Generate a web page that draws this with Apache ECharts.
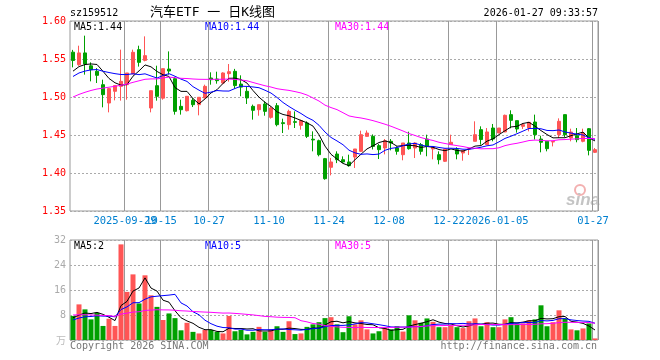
<!DOCTYPE html>
<html><head><meta charset="utf-8">
<script src="https://cdn.jsdelivr.net/npm/echarts@6/dist/echarts.min.js"></script>
<style>html,body{margin:0;padding:0;background:#fff}#c{width:660px;height:360px}</style>
</head><body><div id="c"></div>
<script>
const dates = [
'2025-09-16','2025-09-17','2025-09-18','2025-09-19','2025-09-22','2025-09-23','2025-09-24','2025-09-25','2025-09-26','2025-09-29',
'2025-09-30','2025-10-09','2025-10-10','2025-10-13','2025-10-14','2025-10-15','2025-10-16','2025-10-17','2025-10-20','2025-10-21',
'2025-10-22','2025-10-23','2025-10-24','2025-10-27','2025-10-28','2025-10-29','2025-10-30','2025-10-31','2025-11-03','2025-11-04',
'2025-11-05','2025-11-06','2025-11-07','2025-11-10','2025-11-11','2025-11-12','2025-11-13','2025-11-14','2025-11-17','2025-11-18',
'2025-11-19','2025-11-20','2025-11-21','2025-11-24','2025-11-25','2025-11-26','2025-11-27','2025-11-28','2025-12-01','2025-12-02',
'2025-12-03','2025-12-04','2025-12-05','2025-12-08','2025-12-09','2025-12-10','2025-12-11','2025-12-12','2025-12-15','2025-12-16',
'2025-12-17','2025-12-18','2025-12-19','2025-12-22','2025-12-23','2025-12-24','2025-12-25','2025-12-26','2025-12-29','2025-12-30',
'2025-12-31','2026-01-05','2026-01-06','2026-01-07','2026-01-08','2026-01-09','2026-01-12','2026-01-13','2026-01-14','2026-01-15',
'2026-01-16','2026-01-19','2026-01-20','2026-01-21','2026-01-22','2026-01-23','2026-01-26','2026-01-27'];
const opens = [1.559,1.5425,1.558,1.541,1.5338,1.5162,1.4921,1.5075,1.514,1.5162,
1.5303,1.5623,1.5482,1.4855,1.5149,1.4985,1.5368,1.5241,1.4877,1.482,
1.4956,1.4899,1.4987,1.525,1.5237,1.5184,1.5307,1.5338,1.517,1.5075,
1.4877,1.4833,1.4908,1.4732,1.4886,1.4662,1.4636,1.4675,1.4627,1.4658,
1.4445,1.4425,1.4189,1.4075,1.425,1.4175,1.4145,1.421,1.4285,1.4482,
1.4482,1.436,1.4329,1.4417,1.4329,1.4241,1.4395,1.4329,1.4373,1.4447,
1.4316,1.4241,1.4154,1.4373,1.4307,1.4263,1.4316,1.4417,1.457,1.4373,
1.4592,1.4526,1.454,1.4768,1.4689,1.4614,1.4592,1.4671,1.4447,1.4417,
1.4408,1.4504,1.4768,1.446,1.4491,1.4417,1.4583,1.4272];
const closes = [1.548,1.558,1.5434,1.536,1.5285,1.5031,1.511,1.515,1.5206,1.5316,
1.5588,1.5456,1.5544,1.5083,1.5009,1.5373,1.5342,1.4811,1.4833,1.5009,
1.4899,1.4996,1.514,1.5228,1.5215,1.5316,1.5333,1.515,1.513,1.4987,
1.4825,1.4899,1.4811,1.4855,1.4636,1.465,1.4811,1.4667,1.4689,1.4482,
1.4435,1.4241,1.3925,1.4145,1.4175,1.4145,1.4096,1.4316,1.4504,1.4526,
1.435,1.4307,1.4425,1.4395,1.4285,1.4395,1.432,1.4395,1.4285,1.435,
1.4338,1.4175,1.4316,1.4404,1.425,1.4294,1.4318,1.4504,1.444,1.454,
1.4447,1.4592,1.4759,1.4693,1.4579,1.4636,1.4667,1.4504,1.4404,1.432,
1.4414,1.468,1.4504,1.4539,1.4439,1.4526,1.4298,1.4307];
const lows = [1.539,1.541,1.5294,1.5206,1.5184,1.4864,1.4798,1.4956,1.4952,1.4965,
1.5303,1.540,1.5469,1.4798,1.4952,1.4965,1.5294,1.4768,1.4768,1.481,
1.4868,1.4759,1.4987,1.5162,1.5175,1.5167,1.5202,1.511,1.501,1.4908,
1.4702,1.4754,1.4754,1.4715,1.4614,1.4526,1.457,1.4592,1.457,1.446,
1.4285,1.4219,1.3912,1.3969,1.413,1.413,1.4083,1.4066,1.4276,1.4478,
1.431,1.4184,1.4245,1.4298,1.4241,1.4167,1.4307,1.4197,1.4241,1.422,
1.418,1.4114,1.4145,1.4373,1.418,1.4162,1.4237,1.4417,1.4373,1.4373,
1.4417,1.4526,1.454,1.4588,1.4531,1.4579,1.4548,1.444,1.4272,1.4285,
1.435,1.4461,1.4474,1.4417,1.4404,1.4404,1.4232,1.4263];
const highs = [1.562,1.5675,1.5807,1.5456,1.538,1.5228,1.5118,1.515,1.5623,1.5316,
1.5623,1.5675,1.5798,1.5083,1.5412,1.5373,1.560,1.5265,1.4965,1.5009,
1.4987,1.4996,1.5162,1.5325,1.5333,1.5325,1.5434,1.537,1.5285,1.5132,
1.490,1.4899,1.4943,1.4877,1.492,1.4715,1.4833,1.4811,1.4702,1.468,
1.4548,1.4439,1.4198,1.4198,1.4285,1.4219,1.4241,1.4316,1.4557,1.456,
1.4508,1.4382,1.4447,1.4447,1.4351,1.4395,1.4544,1.4404,1.4395,1.4504,
1.4338,1.4285,1.4316,1.4504,1.4338,1.4294,1.4329,1.468,1.4614,1.4592,
1.4645,1.4592,1.4768,1.4825,1.4689,1.4658,1.4671,1.4768,1.449,1.4417,
1.4414,1.4719,1.4768,1.4583,1.4592,1.4583,1.4592,1.4329];
const volumes = [7.7,11.4,9.8,6.6,8.7,4.5,6.8,4.5,30.6,15.4,
21,11.7,20.7,14.3,10.6,6.4,8.5,7,3.1,5.5,
2.6,2.1,3.2,3.2,2.6,2.1,7.7,2.8,3.2,1.8,
2.6,4.2,2.6,3.4,4.4,2.6,6,1.9,2.1,4.2,
5,5.7,7,7.3,5,2.5,7.6,5,6.3,3.4,
2.1,2.8,3.8,3.4,4.4,2.7,7.9,6.3,5.5,6.9,
5.8,4.1,4.1,4.7,4.1,3.8,6,6.9,4.4,5.7,
4.1,4.1,6.6,7.3,5.3,5.3,6.3,6.6,11.1,4.4,
5.7,9.5,6.9,3.4,3.1,3.7,5.3,0.5];
// sessions before the visible window (estimated, only feed the moving averages)
const priorCloses = [1.455,1.46,1.465,1.47,1.468,1.475,1.48,1.478,1.485,1.49,
1.488,1.492,1.495,1.5,1.498,1.502,1.505,1.508,1.51,1.506,
1.512,1.518,1.52,1.525,1.525,1.528,1.53,1.532,1.532];
const priorVolumes = [9,10,8,11,7,9,12,8,7,10,9,8,11,7,8,9,10,8,8,7,
5,6,5.5,6.5,5.5,7,6.5,7.5,6.8];
const tickDates = ['2025-09-29','2025-10-15','2025-10-27','2025-11-10','2025-11-24','2025-12-08','2025-12-22','2026-01-05','2026-01-27'];
const tickLabels = ['2025-09-29','10-15','10-27','11-10','11-24','12-08','12-22','2026-01-05','01-27'];
const priceMin = 1.35, priceMax = 1.60, priceStep = 0.05;
const volMin = 0, volMax = 32, volStep = 8;
const maLabels = ['MA5:1.44','MA10:1.44','MA30:1.44'];
const volMaLabels = ['MA5:2','MA10:5','MA30:5'];

const UP = '#ff5555', DOWN = '#00a000';
const MONO = '"DejaVu Sans Mono", "Liberation Mono", monospace';

function ma(vals, prior, n) {
  const all = prior.concat(vals);
  return vals.map((_, i) => {
    const end = prior.length + i;
    let s = 0;
    for (let j = end - n + 1; j <= end; j++) s += all[j];
    return +(s / n).toFixed(4);
  });
}

const chart = echarts.init(document.getElementById('c'), null, {renderer: 'canvas'});
const hSplit = {show: true, lineStyle: {color: '#aaa', type: [2, 2], width: 1}};
const maLine = (data, color, xi, yi) => ({type: 'line', data, xAxisIndex: xi, yAxisIndex: yi, showSymbol: false, symbol: 'none', silent: true, lineStyle: {width: 1, color}, z: 5});

const tickIdx = tickDates.map(d => dates.indexOf(d));
const isTick = (i) => tickIdx.indexOf(i) >= 0;
const vSplit = {show: true, interval: (i) => isTick(i), lineStyle: {color: '#999', width: 1, type: 'solid'}};

const dateLabels = {
  type: 'custom', xAxisIndex: 0, yAxisIndex: 0, silent: true, z: 10, clip: false,
  data: tickIdx.map((idx, k) => [idx, k]),
  renderItem: (params, api) => {
    const p = api.coord([api.value(0), priceMin]);
    return {type: 'text', x: p[0] - 2, y: p[1] + 10,
      style: {text: tickLabels[api.value(1)], fill: '#0080d0', font: '10.5px ' + MONO, align: 'center', verticalAlign: 'middle'}};
  }
};

const txt = (x, y, text, color, extra) => Object.assign({type: 'text', x, y, silent: true,
  style: Object.assign({text, fill: color, font: '10px ' + MONO, textVerticalAlign: 'middle'}, extra || {})});

chart.setOption({
  animation: false,
  backgroundColor: '#fff',
  grid: [
    {left: 70, right: 62, top: 21, height: 190, show: true, borderColor: '#999', borderWidth: 1, backgroundColor: 'transparent'},
    {left: 70, right: 62, top: 240, height: 100, show: true, borderColor: '#999', borderWidth: 1, backgroundColor: 'transparent'}
  ],
  xAxis: [
    {type: 'category', gridIndex: 0, data: dates, boundaryGap: true,
     axisLine: {show: false}, axisTick: {show: false}, axisLabel: {show: false}, splitLine: vSplit},
    {type: 'category', gridIndex: 1, data: dates, boundaryGap: true,
     axisLine: {show: false}, axisTick: {show: false}, axisLabel: {show: false}, splitLine: vSplit}
  ],
  yAxis: [
    {type: 'value', gridIndex: 0, min: priceMin, max: priceMax, interval: priceStep,
     axisLine: {show: false}, axisTick: {show: false},
     axisLabel: {color: '#ff0000', formatter: v => v.toFixed(2), fontFamily: MONO, fontSize: 10, margin: 4},
     splitLine: hSplit},
    {type: 'value', gridIndex: 1, min: volMin, max: volMax, interval: volStep,
     axisLine: {show: false}, axisTick: {show: false},
     axisLabel: {color: '#aaa', formatter: v => v === 0 ? '' : String(v), fontFamily: MONO, fontSize: 10, margin: 4},
     splitLine: hSplit}
  ],
  series: [
    dateLabels,
    {type: 'candlestick', xAxisIndex: 0, yAxisIndex: 0, barWidth: 4, z: 3,
     data: dates.map((d, i) => [opens[i], closes[i], lows[i], highs[i]]),
     itemStyle: {color: UP, color0: DOWN, borderColor: UP, borderColor0: DOWN, borderWidth: 1}},
    maLine(ma(closes, priorCloses, 5), '#000000', 0, 0),
    maLine(ma(closes, priorCloses, 10), '#0000ff', 0, 0),
    maLine(ma(closes, priorCloses, 30), '#ff00ff', 0, 0),
    {type: 'bar', xAxisIndex: 1, yAxisIndex: 1, barWidth: 5, z: 3,
     data: volumes.map((v, i) => ({value: v, itemStyle: {color: closes[i] >= opens[i] ? UP : DOWN}}))},
    maLine(ma(volumes, priorVolumes, 5), '#000000', 1, 1),
    maLine(ma(volumes, priorVolumes, 10), '#0000ff', 1, 1),
    maLine(ma(volumes, priorVolumes, 30), '#ff00ff', 1, 1)
  ],
  graphic: [
    txt(70, 13, 'sz159512', '#000'),
    txt(150, 13, '汽车ETF 一 日K线图', '#000', {font: '13px "DejaVu Sans Mono", "Noto Sans CJK SC", monospace'}),
    txt(598, 13, '2026-01-27 09:33:57', '#000', {textAlign: 'right'}),
    txt(74, 27, maLabels[0], '#000'),
    txt(205, 27, maLabels[1], '#0000ff'),
    txt(335, 27, maLabels[2], '#ff00ff'),
    txt(74, 246, volMaLabels[0], '#000'),
    txt(205, 246, volMaLabels[1], '#0000ff'),
    txt(335, 246, volMaLabels[2], '#ff00ff'),
    txt(66, 340, '万', '#bbb', {textAlign: 'right', font: '10px "Noto Sans CJK SC", sans-serif'}),
    txt(70, 346, 'Copyright 2026 SINA.COM', '#777'),
    txt(597, 346, 'http://finance.sina.com.cn', '#777', {textAlign: 'right'}),
    {type: 'circle', shape: {cx: 580, cy: 190, r: 5}, silent: true, style: {fill: 'none', stroke: '#f3b0b0', lineWidth: 2}},
    txt(566, 200, 'sina', '#c4c4c4', {font: 'italic bold 17px "Liberation Sans", sans-serif'})
  ]
});
</script></body></html>
